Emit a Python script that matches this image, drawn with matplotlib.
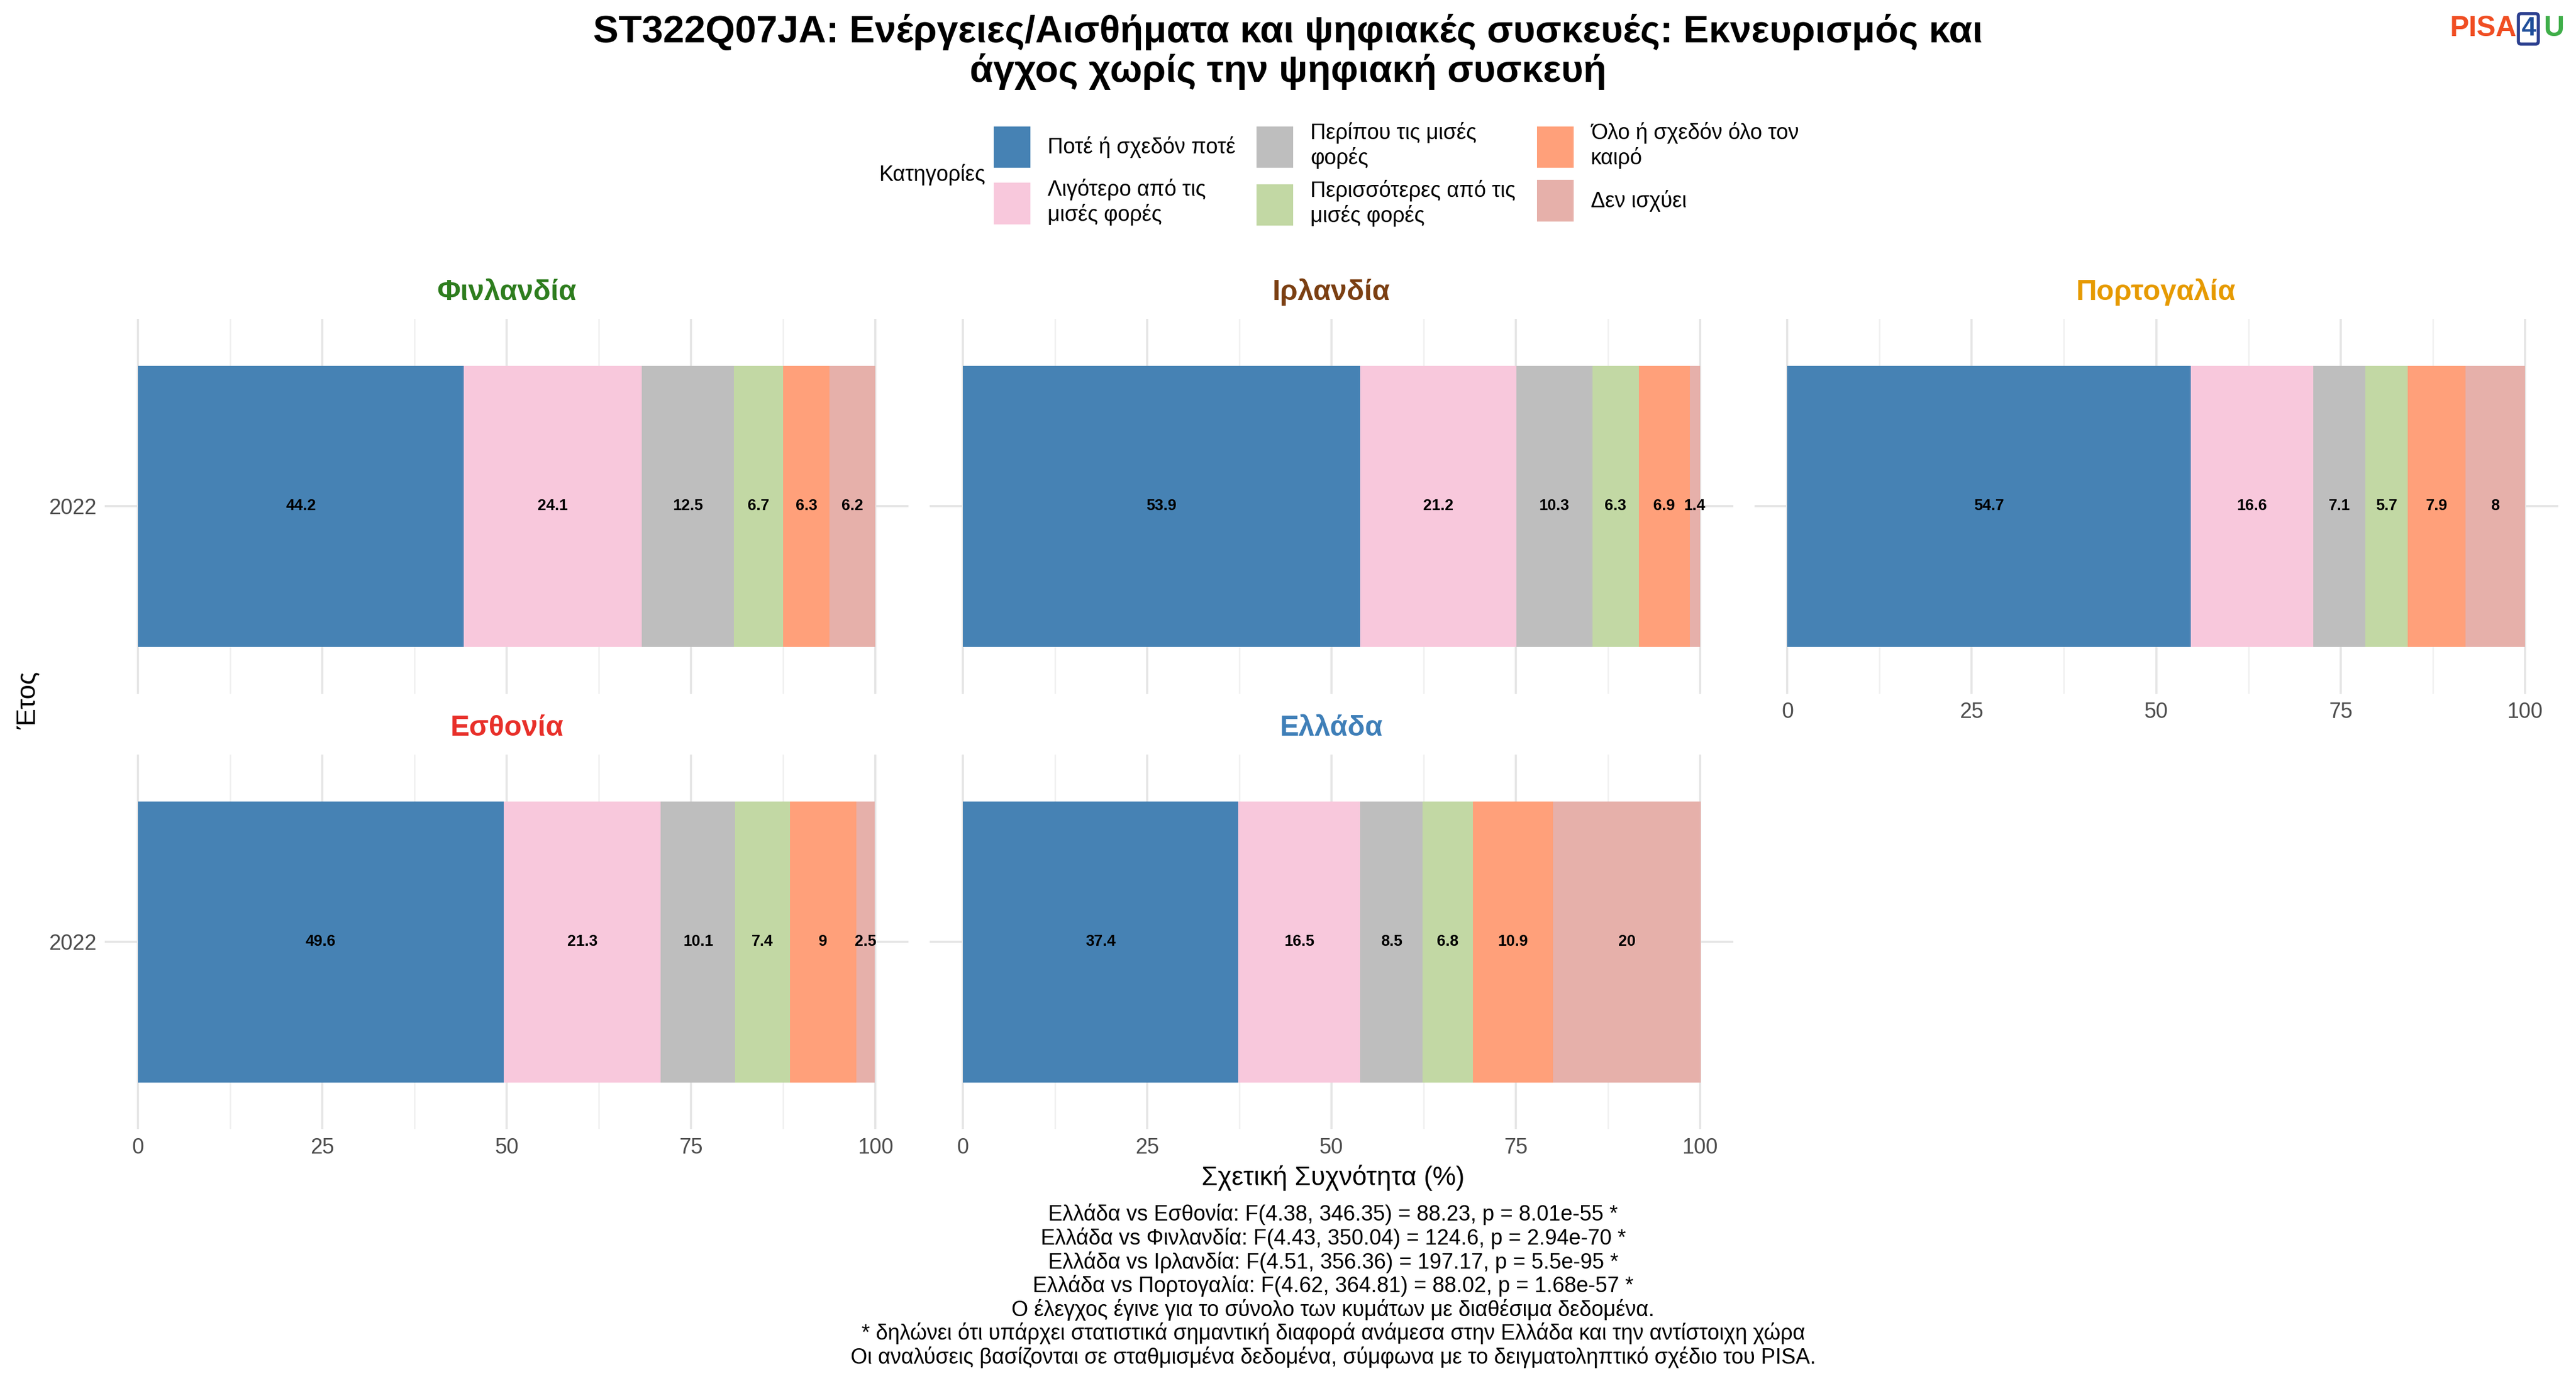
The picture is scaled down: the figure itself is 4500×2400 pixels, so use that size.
import matplotlib
matplotlib.use("Agg")
import matplotlib.pyplot as plt
from matplotlib.patches import Patch

plt.rcParams['font.family'] = ['Liberation Sans', 'DejaVu Sans']

countries = ["Φινλανδία", "Ιρλανδία", "Πορτογαλία", "Εσθονία", "Ελλάδα"]
title_colors = ["#2E7D1E", "#7B3F12", "#E69A00", "#E8302A", "#3F7FB8"]
categories = ["Ποτέ ή σχεδόν ποτέ", "Λιγότερο από τις\nμισές φορές", "Περίπου τις μισές\nφορές",
              "Περισσότερες από τις\nμισές φορές", "Όλο ή σχεδόν όλο τον\nκαιρό", "Δεν ισχύει"]
cat_colors = ["#4682B4", "#F8C8DC", "#BEBEBE", "#C2D8A4", "#FFA07A", "#E6B0AA"]
values = {
    "Φινλανδία": [44.2, 24.1, 12.5, 6.7, 6.3, 6.2],
    "Ιρλανδία": [53.9, 21.2, 10.3, 6.3, 6.9, 1.4],
    "Πορτογαλία": [54.7, 16.6, 7.1, 5.7, 7.9, 8],
    "Εσθονία": [49.6, 21.3, 10.1, 7.4, 9, 2.5],
    "Ελλάδα": [37.4, 16.5, 8.5, 6.8, 10.9, 20],
}
year = "2022"
xticks = [0, 25, 50, 75, 100]

fig = plt.figure(figsize=(15, 8), dpi=300)
lefts = [0.0407, 0.3608, 0.681]
W = 0.312
H = 0.2727
bottoms = [0.4952, 0.1782]
positions = [(0, 0), (0, 1), (0, 2), (1, 0), (1, 1)]

for i, c in enumerate(countries):
    r, col = positions[i]
    ax = fig.add_axes([lefts[col], bottoms[r], W, H])
    left = 0
    for v, cc in zip(values[c], cat_colors):
        ax.barh([0], [v], left=left, height=0.9, color=cc, zorder=2)
        ax.text(left + v / 2, 0, f"{v:g}", ha="center", va="center", fontsize=6.5, fontweight="bold", zorder=3)
        left += v
    ax.set_xlim(-4.5, 104.5)
    ax.set_ylim(-0.6, 0.6)
    ax.set_xticks(xticks)
    ax.set_xticks([12.5, 37.5, 62.5, 87.5], minor=True)
    ax.set_yticks([0])
    ax.set_yticklabels([year] if col == 0 else [])
    ax.grid(True, which="major", color="#E5E5E5", lw=0.9, zorder=0)
    ax.grid(True, which="minor", axis="x", color="#F0F0F0", lw=0.6, zorder=0)
    for s in ax.spines.values():
        s.set_visible(False)
    ax.tick_params(length=0, labelsize=9, colors="#4D4D4D", which="both")
    if r == 0 and col < 2:
        ax.set_xticklabels([])
    ax.set_title(c, color=title_colors[i], fontsize=12, fontweight="bold", pad=8)

fig.text(0.011, 0.49, "Έτος", rotation=90, ha="center", va="center", fontsize=11)
fig.text(0.5175, 0.143, "Σχετική Συχνότητα (%)", ha="center", va="center", fontsize=11)

fig.text(0.5, 0.99, "ST322Q07JA: Ενέργειες/Αισθήματα και ψηφιακές συσκευές: Εκνευρισμός και\nάγχος χωρίς την ψηφιακή συσκευή",
         ha="center", va="top", fontsize=16, fontweight="bold", linespacing=1.1)

fig.text(0.951, 0.979, "PISA", color="#F04E23", fontsize=12, fontweight="bold", ha="left", va="center")
fig.text(0.9815, 0.979, "4", color="#1F4E9A", fontsize=11, fontweight="bold", ha="center", va="center",
         bbox=dict(boxstyle="round,pad=0.1", fc="white", ec="#2B3F8F", lw=1.3))
fig.text(0.9875, 0.979, "U", color="#3FAE49", fontsize=12, fontweight="bold", ha="left", va="center")

handles = [Patch(facecolor=cc, label=l) for cc, l in zip(cat_colors, categories)]
fig.legend(handles=handles, ncol=3, loc="center", bbox_to_anchor=(0.542, 0.873), frameon=False,
           fontsize=9, handlelength=1.7, handleheight=2.6, columnspacing=1.0, labelspacing=0.5)
fig.text(0.362, 0.873, "Κατηγορίες", ha="center", va="center", fontsize=9)

footer = ("Ελλάδα vs Εσθονία: F(4.38, 346.35) = 88.23, p = 8.01e-55 *\n"
          "Ελλάδα vs Φινλανδία: F(4.43, 350.04) = 124.6, p = 2.94e-70 *\n"
          "Ελλάδα vs Ιρλανδία: F(4.51, 356.36) = 197.17, p = 5.5e-95 *\n"
          "Ελλάδα vs Πορτογαλία: F(4.62, 364.81) = 88.02, p = 1.68e-57 *\n"
          "Ο έλεγχος έγινε για το σύνολο των κυμάτων με διαθέσιμα δεδομένα.\n"
          "* δηλώνει ότι υπάρχει στατιστικά σημαντική διαφορά ανάμεσα στην Ελλάδα και την αντίστοιχη χώρα\n"
          "Οι αναλύσεις βασίζονται σε σταθμισμένα δεδομένα, σύμφωνα με το δειγματοληπτικό σχέδιο του PISA.")
fig.text(0.5175, 0.124, footer, ha="center", va="top", fontsize=9, linespacing=1.12)

fig.savefig("out.png", dpi=300, facecolor="white")
